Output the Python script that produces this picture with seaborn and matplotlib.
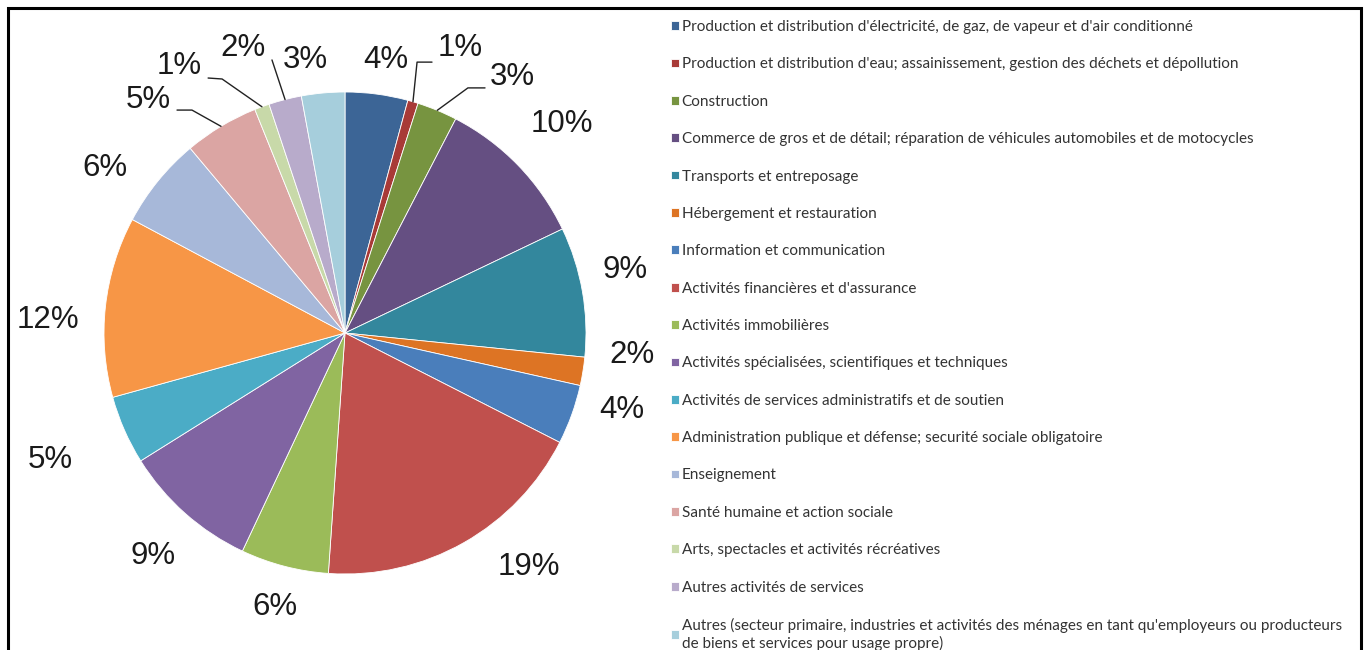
import matplotlib
matplotlib.use("Agg")
import matplotlib.pyplot as plt
import seaborn as sns
import numpy as np
from matplotlib.patches import Rectangle

# Répartition par secteur d'activité (parts en %)
sectors = [
    "Production et distribution d'électricité, de gaz, de vapeur et d'air conditionné",
    "Production et distribution d'eau; assainissement, gestion des déchets et dépollution",
    "Construction",
    "Commerce de gros et de détail; réparation de véhicules automobiles et de motocycles",
    "Transports et entreposage",
    "Hébergement et restauration",
    "Information et communication",
    "Activités financières et d'assurance",
    "Activités immobilières",
    "Activités spécialisées, scientifiques et techniques",
    "Activités de services administratifs et de soutien",
    "Administration publique et défense; securité sociale obligatoire",
    "Enseignement",
    "Santé humaine et action sociale",
    "Arts, spectacles et activités récréatives",
    "Autres activités de services",
    "Autres (secteur primaire, industries et activités des ménages en tant qu'employeurs ou producteurs\n"
    "de biens et services pour usage propre)",
]
shares = [4.2, 0.7, 2.7, 10.3, 8.7, 1.9, 4.0, 18.6, 5.9, 9.1, 4.6, 12.1, 6.1, 5.0, 1.0, 2.2, 2.9]

colors = ["#3c6596", "#a83a37", "#779440", "#654f82", "#33879d", "#dd7424",
          "#4a7ebb", "#c0504d", "#9bbb59", "#8064a2", "#4bacc6", "#f79646",
          "#a7b8d9", "#dba5a3", "#c8d9a9", "#b8abcb", "#a6cedc"]

# label placement (pie data units, radius = 1)
label_xy = [(0.17, 1.133), (0.477, 1.183), (0.693, 1.062), (0.900, 0.867),
            (1.162, 0.261), (1.191, -0.091), (1.149, -0.320), (0.762, -0.971),
            (-0.290, -1.137), (-0.797, -0.925), (-1.224, -0.527), (-1.232, 0.054),
            (-0.996, 0.685), (-0.817, 0.967), (-0.689, 1.108), (-0.423, 1.183),
            (-0.166, 1.133)]
# leader lines for the thin slices: elbow and end points
leaders = {
    1: [(0.299, 1.124), (0.361, 1.124)],
    2: [(0.510, 1.017), (0.581, 1.017)],
    13: [(-0.635, 0.925), (-0.697, 0.925)],
    14: [(-0.510, 1.054), (-0.568, 1.058)],
    15: [(-0.303, 1.133)],
}

sns.set_theme(style="white")
plt.rcParams["font.family"] = ["Liberation Sans", "DejaVu Sans"]

W, H = 1368, 650
fig = plt.figure(figsize=(W / 100, H / 100), dpi=100)
fig.patch.set_facecolor("white")

cx, cy, R = 345, 333, 241
lim = 1.4
half = lim * R
ax = fig.add_axes([(cx - half) / W, (H - cy - half) / H, 2 * half / W, 2 * half / H])
wedges, _ = ax.pie(shares, colors=colors, startangle=90, counterclock=False,
                   wedgeprops=dict(edgecolor="white", linewidth=0.6))
ax.set_xlim(-lim, lim)
ax.set_ylim(-lim, lim)
ax.axis("off")

total = sum(shares)
for i, w in enumerate(wedges):
    x, y = label_xy[i]
    ax.text(x, y, f"{100 * shares[i] / total:.0f}%", ha="center", va="center",
            fontsize=22.5, color="#1a1a1a")
    if i in leaders:
        ang = np.deg2rad((w.theta1 + w.theta2) / 2)
        pts = [(np.cos(ang), np.sin(ang))] + leaders[i]
        xs, ys = zip(*pts)
        ax.plot(xs, ys, color="#222222", lw=1)

fig.legend(wedges, sectors, loc="upper left", bbox_to_anchor=(671 / W, 1 - 20 / H),
           frameon=False, prop={"family": "Lato", "size": 11},
           handlelength=0.5, handleheight=0.5, handletextpad=0.2,
           labelspacing=1.53, borderpad=0, borderaxespad=0, labelcolor="#333333")

# outer frame
fig.patches.append(Rectangle((8 / W, -0.05), (1361 - 8) / W, 1 - 8 / H + 0.05,
                             transform=fig.transFigure, fill=False,
                             edgecolor="black", linewidth=2.2))

fig.savefig("out.png", dpi=100)
